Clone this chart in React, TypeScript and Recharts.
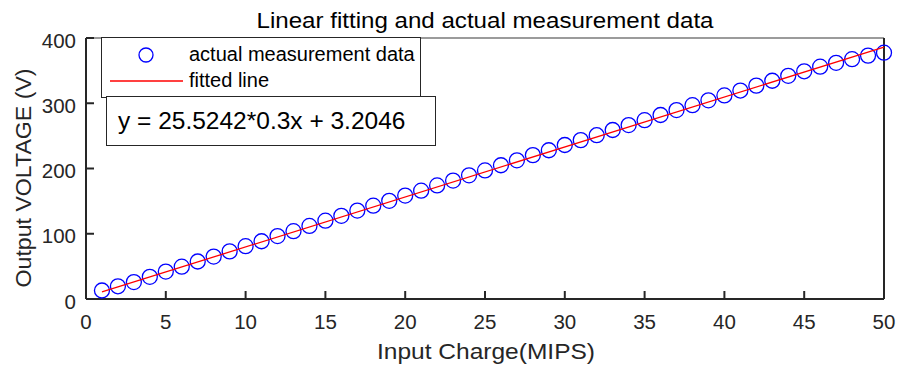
import { Scatter, ScatterChart, XAxis, YAxis } from 'recharts';

const xValues = [
  1, 2, 3, 4, 5, 6, 7, 8, 9, 10, 11, 12, 13, 14, 15, 16, 17, 18, 19, 20, 21, 22, 23, 24, 25,
  26, 27, 28, 29, 30, 31, 32, 33, 34, 35, 36, 37, 38, 39, 40, 41, 42, 43, 44, 45, 46, 47, 48, 49, 50,
];
const measured = [
  13, 19.5, 26, 34, 42, 49.5, 57.5, 65, 73, 81, 88.5, 96.5, 104, 112, 120, 127.5, 135.5, 143, 150.5, 158.5,
  166, 174, 181.5, 189.5, 197, 205, 212.5, 220.5, 228, 236, 243.5, 251, 259, 266.5, 274, 282, 289.5, 297,
  304.5, 312, 319.5, 327, 334.5, 342, 349, 356, 362, 367.5, 373, 377.5,
];
const fitX = [1, 50];
const fitY = [10.86, 386.07];
const xTicks = [0, 5, 10, 15, 20, 25, 30, 35, 40, 45, 50];
const yTicks = [0, 100, 200, 300, 400];

const FONT = '"Liberation Sans", Arial, Helvetica, sans-serif';
const INK = '#262626';

const measData = xValues.map((x, i) => ({ x, y: measured[i] }));
const fitData = fitX.map((x, i) => ({ x, y: fitY[i] }));

const tickLine = { stroke: INK, strokeWidth: 2 };
const axisLine = { stroke: INK, strokeWidth: 2 };

const Ring = (p: any) => <circle cx={p.cx} cy={p.cy} r={7.5} fill="none" stroke="#0000ff" strokeWidth={1.3} />;
const NoDot = () => <g />;

// tick labels drawn by hand so they sit like MATLAB's
const XTick = (p: any) => (
  <text x={p.x} y={p.y + 15} textAnchor="middle" fontSize={20.5} fill={INK} fontFamily={FONT}>
    {p.payload.value}
  </text>
);
const YTick = (p: any) => (
  <text x={p.x} y={p.y + 9.5} textAnchor="end" fontSize={20.5} fill={INK} fontFamily={FONT}>
    {p.payload.value}
  </text>
);

export default function App() {
  return (
    <div style={{ position: 'absolute', left: 0, top: 0, width: 900, height: 366, background: '#fff' }}>
      <ScatterChart width={900} height={366} margin={{ top: 37, right: 15, bottom: 37, left: 26 }}>
        <XAxis
          xAxisId={0}
          type="number"
          dataKey="x"
          domain={[0, 50]}
          ticks={xTicks}
          interval={0}
          height={30}
          tickSize={-8}
          tickMargin={23}
          tick={XTick}
          tickLine={tickLine}
          axisLine={axisLine}
        />
        <XAxis
          xAxisId="top"
          orientation="top"
          type="number"
          dataKey="x"
          domain={[0, 50]}
          ticks={xTicks}
          interval={0}
          height={1}
          tickSize={-8}
          tickFormatter={() => ''}
          tickLine={tickLine}
          axisLine={{ stroke: '#7a7a7a', strokeWidth: 1.5 }}
        />
        <YAxis
          yAxisId={0}
          type="number"
          dataKey="y"
          domain={[0, 400]}
          ticks={yTicks}
          interval={0}
          width={60}
          tickSize={-8}
          tickMargin={18}
          tick={YTick}
          tickLine={tickLine}
          axisLine={axisLine}
        />
        <YAxis
          yAxisId="right"
          orientation="right"
          type="number"
          dataKey="y"
          domain={[0, 400]}
          ticks={yTicks}
          interval={0}
          width={1}
          tickSize={-8}
          tickFormatter={() => ''}
          tickLine={tickLine}
          axisLine={axisLine}
        />
        <Scatter data={measData} shape={Ring} isAnimationActive={false} />
        <Scatter
          data={fitData}
          shape={NoDot}
          line={{ stroke: '#ff0000', strokeWidth: 1.3 }}
          isAnimationActive={false}
        />
      </ScatterChart>
      <svg
        width={900}
        height={366}
        style={{ position: 'absolute', left: 0, top: 0, pointerEvents: 'none' }}
        fontFamily={FONT}
      >
        <text x={485} y={28} textAnchor="middle" fontSize={22} fill="#000" textLength={457} lengthAdjust="spacingAndGlyphs">
          Linear fitting and actual measurement data
        </text>
        <text x={486} y={359} textAnchor="middle" fontSize={22} fill={INK} textLength={218} lengthAdjust="spacingAndGlyphs">
          Input Charge(MIPS)
        </text>
        <text
          transform="translate(31,178) rotate(-90)"
          textAnchor="middle"
          fontSize={22}
          fill={INK}
          textLength={219}
          lengthAdjust="spacingAndGlyphs"
        >
          Output VOLTAGE (V)
        </text>
        <rect x={101.5} y={37.5} width={319} height={60} fill="#fff" stroke={INK} strokeWidth={1} />
        <circle cx={146} cy={55} r={7} fill="none" stroke="#0000ff" strokeWidth={1.3} />
        <text x={189} y={61} fontSize={20} fill="#000">actual measurement data</text>
        <line x1={110} y1={81} x2={183} y2={81} stroke="#ff0000" strokeWidth={1.3} />
        <text x={189} y={87} fontSize={20} fill="#000">fitted line</text>
        <rect x={106.5} y={96.5} width={329} height={49} fill="#fff" stroke={INK} strokeWidth={1} />
        <text x={118} y={129} fontSize={24.5} fill="#000">y = 25.5242*0.3x + 3.2046</text>
      </svg>
    </div>
  );
}
